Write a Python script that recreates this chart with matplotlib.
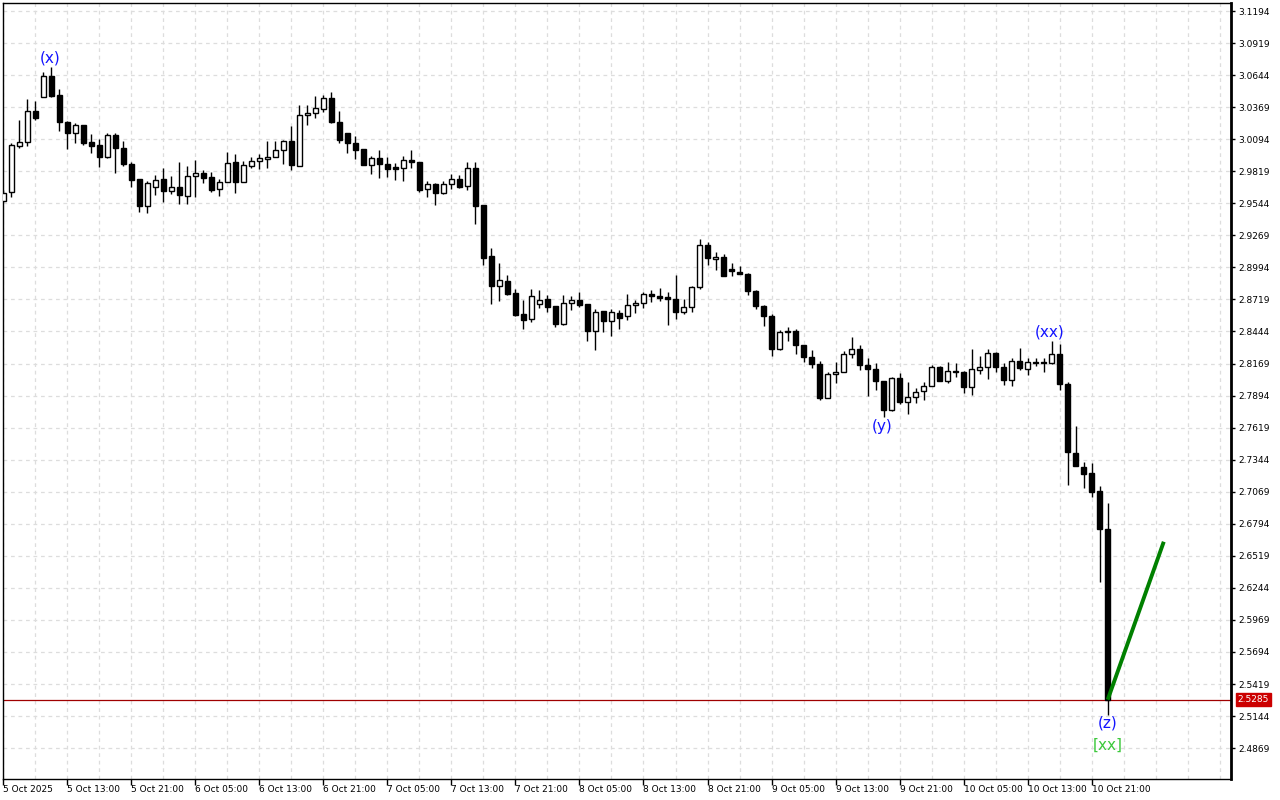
import matplotlib
matplotlib.use("Agg")
import matplotlib.pyplot as plt
from matplotlib.ticker import MultipleLocator, FixedLocator
import numpy as np

opens = [2.9563, 2.9638, 3.0038, 3.0067, 3.0333, 3.0458, 3.0636, 3.0470, 3.0241, 3.0149,
         3.0213, 3.0067, 3.0041, 2.9944, 3.0127, 3.0018, 2.9878, 2.9750, 2.9518, 2.9686,
         2.9750, 2.9652, 2.9684, 2.9609, 2.9775, 2.9801, 2.9769, 2.9664, 2.9724, 2.9895,
         2.9724, 2.9861, 2.9904, 2.9921, 2.9938, 2.9998, 3.0076, 2.9861, 3.0299, 3.0316,
         3.0350, 3.0445, 3.0239, 3.0144, 3.0059, 3.0007, 2.9875, 2.9930, 2.9878, 2.9853,
         2.9844, 2.9913, 2.9895, 2.9666, 2.9707, 2.9630, 2.9707, 2.9750, 2.9690, 2.9844,
         2.9527, 2.9089, 2.8837, 2.8874, 2.8771, 2.8591, 2.8554, 2.8677, 2.8720, 2.8660,
         2.8511, 2.8686, 2.8711, 2.8677, 2.8451, 2.8617, 2.8536, 2.8600, 2.8574, 2.8669,
         2.8686, 2.8763, 2.8746, 2.8737, 2.8720, 2.8608, 2.8651, 2.8823, 2.9183, 2.9063,
         2.9080, 2.8977, 2.8952, 2.8935, 2.8789, 2.8660, 2.8574, 2.8291, 2.8448, 2.8451,
         2.8325, 2.8225, 2.8162, 2.7871, 2.8077, 2.8094, 2.8248, 2.8291, 2.8154, 2.8119,
         2.8016, 2.7768, 2.8042, 2.7836, 2.7879, 2.7931, 2.7974, 2.8137, 2.8016, 2.8102,
         2.8094, 2.7965, 2.8111, 2.8137, 2.8257, 2.8143, 2.8025, 2.8188, 2.8119, 2.8180,
         2.8180, 2.8176, 2.8248, 2.7991, 2.7399, 2.7281, 2.7227, 2.7073, 2.6752]

highs = [2.9660, 3.0059, 3.0258, 3.0436, 3.0421, 3.0668, 3.0716, 3.0522, 3.0250, 3.0230,
         3.0213, 3.0136, 3.0098, 3.0149, 3.0144, 3.0078, 2.9901, 2.9750, 2.9735, 2.9787,
         2.9849, 2.9778, 2.9895, 2.9864, 2.9915, 2.9829, 2.9812, 2.9752, 2.9984, 2.9967,
         2.9907, 2.9938, 2.9967, 3.0076, 3.0076, 3.0084, 3.0207, 3.0387, 3.0387, 3.0464,
         3.0473, 3.0496, 3.0333, 3.0144, 3.0119, 3.0007, 2.9952, 2.9998, 2.9938, 2.9887,
         2.9947, 2.9998, 2.9895, 2.9735, 2.9715, 2.9735, 2.9795, 2.9787, 2.9895, 2.9895,
         2.9527, 2.9158, 2.9029, 2.8926, 2.8806, 2.8711, 2.8806, 2.8797, 2.8754, 2.8660,
         2.8754, 2.8746, 2.8780, 2.8677, 2.8634, 2.8617, 2.8634, 2.8626, 2.8763, 2.8711,
         2.8780, 2.8797, 2.8814, 2.8783, 2.8929, 2.8720, 2.8832, 2.9235, 2.9209, 2.9123,
         2.9106, 2.9029, 2.9003, 2.8943, 2.8797, 2.8669, 2.8591, 2.8454, 2.8482, 2.8463,
         2.8325, 2.8282, 2.8188, 2.8094, 2.8180, 2.8274, 2.8394, 2.8325, 2.8214, 2.8171,
         2.8016, 2.8051, 2.8085, 2.8008, 2.7956, 2.8008, 2.8154, 2.8145, 2.8180, 2.8171,
         2.8102, 2.8291, 2.8231, 2.8291, 2.8265, 2.8171, 2.8214, 2.8300, 2.8214, 2.8214,
         2.8214, 2.8360, 2.8334, 2.8008, 2.7630, 2.7321, 2.7313, 2.7116, 2.6975]

lows = [2.9555, 2.9600, 3.0018, 3.0035, 3.0258, 3.0458, 3.0458, 3.0167, 3.0012, 3.0059,
        3.0044, 2.9973, 2.9853, 2.9930, 2.9806, 2.9864, 2.9684, 2.9472, 2.9458, 2.9615,
        2.9552, 2.9624, 2.9535, 2.9535, 2.9600, 2.9720, 2.9643, 2.9609, 2.9724, 2.9635,
        2.9724, 2.9849, 2.9841, 2.9849, 2.9938, 2.9878, 2.9827, 2.9861, 3.0213, 3.0273,
        3.0327, 3.0230, 3.0064, 2.9973, 2.9921, 2.9870, 2.9798, 2.9763, 2.9772, 2.9746,
        2.9738, 2.9849, 2.9643, 2.9600, 2.9532, 2.9621, 2.9664, 2.9678, 2.9655, 2.9369,
        2.9017, 2.8682, 2.8708, 2.8760, 2.8579, 2.8468, 2.8528, 2.8648, 2.8614, 2.8485,
        2.8502, 2.8631, 2.8657, 2.8365, 2.8288, 2.8442, 2.8408, 2.8468, 2.8545, 2.8605,
        2.8648, 2.8694, 2.8703, 2.8502, 2.8554, 2.8591, 2.8614, 2.8806, 2.9012, 2.8969,
        2.8917, 2.8917, 2.8935, 2.8754, 2.8634, 2.8494, 2.8236, 2.8282, 2.8360, 2.8248,
        2.8180, 2.8128, 2.7854, 2.7871, 2.7999, 2.8094, 2.8214, 2.8111, 2.7888, 2.7939,
        2.7708, 2.7759, 2.7819, 2.7733, 2.7828, 2.7854, 2.7974, 2.8016, 2.7999, 2.8051,
        2.7914, 2.7896, 2.8077, 2.8034, 2.8094, 2.7982, 2.7974, 2.8111, 2.8068, 2.8145,
        2.8094, 2.8162, 2.7939, 2.7124, 2.7287, 2.7098, 2.7021, 2.6297, 2.5153]

closes = [2.9632, 3.0041, 3.0067, 3.0333, 3.0278, 3.0636, 3.0467, 3.0239, 3.0149, 3.0213,
          3.0064, 3.0038, 2.9944, 3.0127, 3.0016, 2.9878, 2.9741, 2.9523, 2.9715, 2.9741,
          2.9652, 2.9684, 2.9618, 2.9778, 2.9801, 2.9763, 2.9662, 2.9724, 2.9887, 2.9724,
          2.9870, 2.9904, 2.9930, 2.9938, 2.9998, 3.0076, 2.9870, 3.0299, 3.0316, 3.0359,
          3.0445, 3.0239, 3.0089, 3.0059, 3.0004, 2.9875, 2.9930, 2.9878, 2.9841, 2.9841,
          2.9913, 2.9895, 2.9658, 2.9707, 2.9630, 2.9707, 2.9750, 2.9686, 2.9844, 2.9523,
          2.9077, 2.8837, 2.8883, 2.8768, 2.8588, 2.8545, 2.8746, 2.8711, 2.8657, 2.8511,
          2.8686, 2.8711, 2.8674, 2.8451, 2.8608, 2.8536, 2.8608, 2.8562, 2.8669, 2.8686,
          2.8763, 2.8746, 2.8734, 2.8725, 2.8608, 2.8651, 2.8823, 2.9183, 2.9072, 2.9080,
          2.8917, 2.8960, 2.8935, 2.8789, 2.8660, 2.8574, 2.8291, 2.8437, 2.8437, 2.8325,
          2.8222, 2.8162, 2.7871, 2.8077, 2.8094, 2.8248, 2.8291, 2.8154, 2.8119, 2.8016,
          2.7768, 2.8042, 2.7836, 2.7879, 2.7922, 2.7974, 2.8137, 2.8016, 2.8102, 2.8094,
          2.7965, 2.8119, 2.8137, 2.8257, 2.8137, 2.8025, 2.8188, 2.8128, 2.8180, 2.8171,
          2.8176, 2.8248, 2.7991, 2.7407, 2.7287, 2.7224, 2.7069, 2.6752, 2.5285]

time_labels = ["5 Oct 2025", "5 Oct 13:00", "5 Oct 21:00", "6 Oct 05:00", "6 Oct 13:00",
               "6 Oct 21:00", "7 Oct 05:00", "7 Oct 13:00", "7 Oct 21:00", "8 Oct 05:00",
               "8 Oct 13:00", "8 Oct 21:00", "9 Oct 05:00", "9 Oct 13:00", "9 Oct 21:00",
               "10 Oct 05:00", "10 Oct 13:00", "10 Oct 21:00"]
label_step = 8

price_ticks = [3.1194, 3.0919, 3.0644, 3.0369, 3.0094, 2.9819, 2.9544, 2.9269, 2.8994,
               2.8719, 2.8444, 2.8169, 2.7894, 2.7619, 2.7344, 2.7069, 2.6794, 2.6519,
               2.6244, 2.5969, 2.5694, 2.5419, 2.5144, 2.4869]

current_price = 2.5285

# wave labels: (bar index, price, text)
wave_labels = [(5.9, 3.0790, "(x)"), (109.8, 2.7633, "(y)"), (130.8, 2.8440, "(xx)"),
               (138.0, 2.5085, "(z)")]
wave_label2 = (138.0, 2.4896, "[xx]")

# forecast line
proj_x = [138, 145]
proj_y = [2.5285, 2.6640]

fig = plt.figure(figsize=(12.8, 8.0), dpi=100)
ax = fig.add_axes([3 / 1280, 21 / 800, 1228 / 1280, (800 - 21 - 2.5) / 800])

n = len(opens)
idx = np.arange(n)
o = np.array(opens); h = np.array(highs); l = np.array(lows); c = np.array(closes)
bull = c >= o

ax.vlines(idx, l, h, color="black", linewidth=1.0, zorder=3)
body_bot = np.minimum(o, c)
body_h = np.maximum(np.abs(c - o), 0.0003)
ax.bar(idx[bull], body_h[bull], bottom=body_bot[bull], width=0.6,
       facecolor="white", edgecolor="black", linewidth=1.0, zorder=4)
ax.bar(idx[~bull], body_h[~bull], bottom=body_bot[~bull], width=0.6,
       facecolor="black", edgecolor="black", linewidth=1.0, zorder=4)

ax.plot(proj_x, proj_y, color="#008000", linewidth=2.8, zorder=5, solid_capstyle="butt")

ax.axhline(current_price, color="#A00000", linewidth=0.9, zorder=2)

for xi, yi, t in wave_labels:
    ax.text(xi, yi, t, color="#1414FF", fontsize=11, ha="center", va="center", zorder=6)
ax.text(wave_label2[0], wave_label2[1], wave_label2[2], color="#3CC83C", fontsize=11,
        ha="center", va="center", zorder=6)

ax.set_xlim(-0.02, 153.4)
ax.set_ylim(2.4604, 3.1267)

# x ticks
ax.xaxis.set_major_locator(FixedLocator([i * label_step for i in range(len(time_labels))]))
ax.set_xticklabels(time_labels, fontsize=6.5, ha="left")
ax.xaxis.set_minor_locator(MultipleLocator(4))
ax.tick_params(axis="x", which="major", direction="out", length=4, width=1, pad=0.5)
ax.tick_params(axis="x", which="minor", length=0)

# y ticks on right
ax.yaxis.tick_right()
ax.set_yticks(price_ticks)
ax.set_yticklabels([f"{p:.4f}" for p in price_ticks], fontsize=6.5)
ax.tick_params(axis="y", direction="out", length=3, width=1, pad=2)

ax.grid(True, which="both", axis="x", linestyle=(0, (3, 3)), color="#DDDDDD", linewidth=0.9)
ax.grid(True, which="major", axis="y", linestyle=(0, (3, 3)), color="#DDDDDD", linewidth=0.9)
ax.set_axisbelow(True)

for s in ax.spines.values():
    s.set_color("black")
    s.set_linewidth(1.0)
ax.spines["right"].set_linewidth(2.0)

# current price label box
ax.text(1.0055, current_price, f"{current_price:.4f}", transform=ax.get_yaxis_transform(),
        color="white", fontsize=6.5, ha="left", va="center", zorder=10, clip_on=False,
        bbox=dict(boxstyle="square,pad=0.2", facecolor="#CC0000", edgecolor="#CC0000"))

fig.savefig("out.png", dpi=100, facecolor="white")
